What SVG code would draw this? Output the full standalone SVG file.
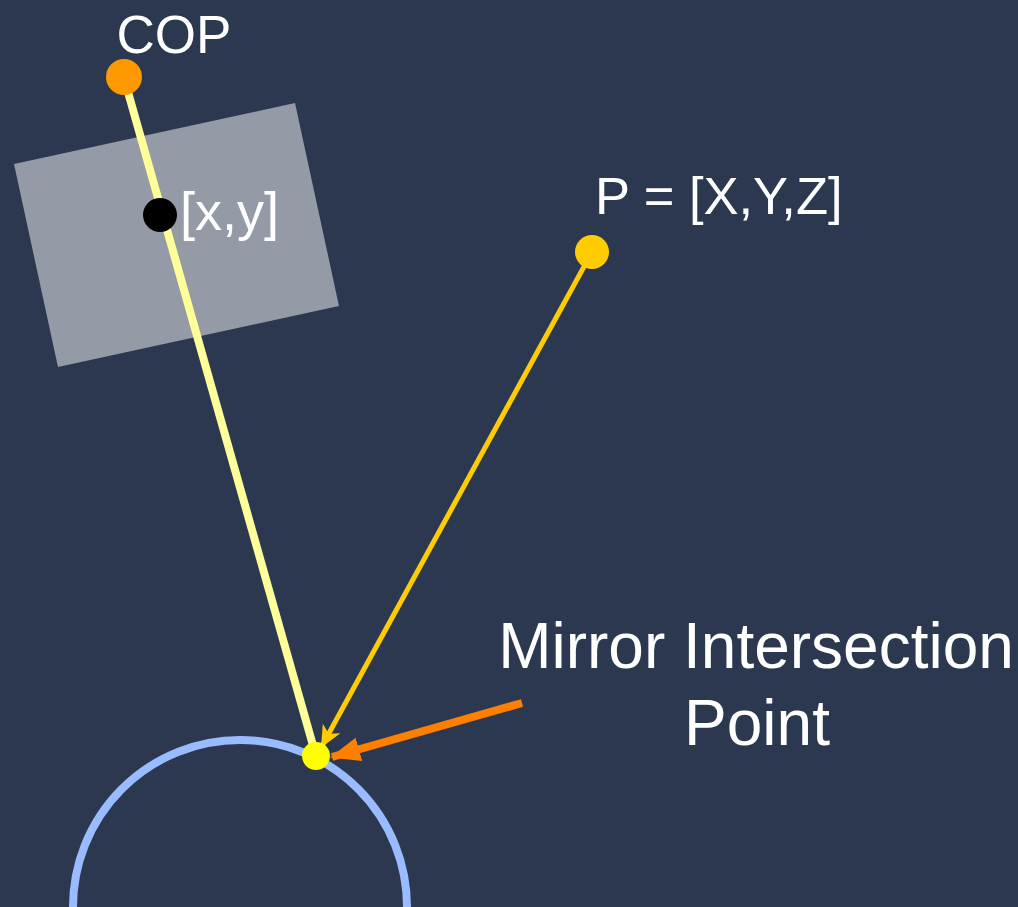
<svg xmlns="http://www.w3.org/2000/svg" width="1018" height="907" viewBox="0 0 1018 907">
<style>
text{font-family:"Liberation Sans",Arial,sans-serif;fill:#ffffff}
</style>
<defs>
<marker id="ahY" markerUnits="userSpaceOnUse" markerWidth="24" markerHeight="24" viewBox="0 0 24 24" refX="20" refY="12" orient="auto"><path d="M0,2 L22,12 L0,22 L6,12 Z" fill="#FFCC00"/></marker>
<marker id="ahO" markerUnits="userSpaceOnUse" markerWidth="30" markerHeight="30" viewBox="0 0 30 30" refX="28" refY="15" orient="auto"><path d="M0,3 L30,15 L0,27 Z" fill="#FF7F00"/></marker>
</defs>
<rect x="0" y="0" width="1018" height="907" fill="#2B3850"/>
<g id="image-plane"><polygon points="14,164 295,103 339,306 58,367" fill="#959BA6"/></g>
<g id="mirror"><circle cx="240" cy="907" r="167" fill="none" stroke="#99BBFF" stroke-width="8"/></g>
<g id="connectors">
<line x1="124" y1="78" x2="316" y2="756" stroke="#FFFF99" stroke-width="8"/>
<line x1="592" y1="252" x2="322" y2="746" stroke="#FFCC00" stroke-width="5" marker-end="url(#ahY)"/>
<line x1="522" y1="703" x2="332" y2="757" stroke="#FF7F00" stroke-width="8" marker-end="url(#ahO)"/>
</g>
<g id="cop"><circle cx="124" cy="77" r="18" fill="#FF9900"/><text x="174" y="53" font-size="53" text-anchor="middle">COP</text></g>
<g id="xy"><circle cx="160" cy="215" r="17" fill="#000000"/><text x="180" y="230" font-size="54">[x,y]</text></g>
<g id="p"><circle cx="592" cy="252" r="17" fill="#FFCC00"/><text x="595" y="214" font-size="52.5">P = [X,Y,Z]</text></g>
<g id="mip"><circle cx="316" cy="756" r="14" fill="#FFFF00"/><text x="756" y="668" font-size="64" text-anchor="middle">Mirror Intersection</text><text x="757" y="745" font-size="64" text-anchor="middle">Point</text></g>
</svg>
